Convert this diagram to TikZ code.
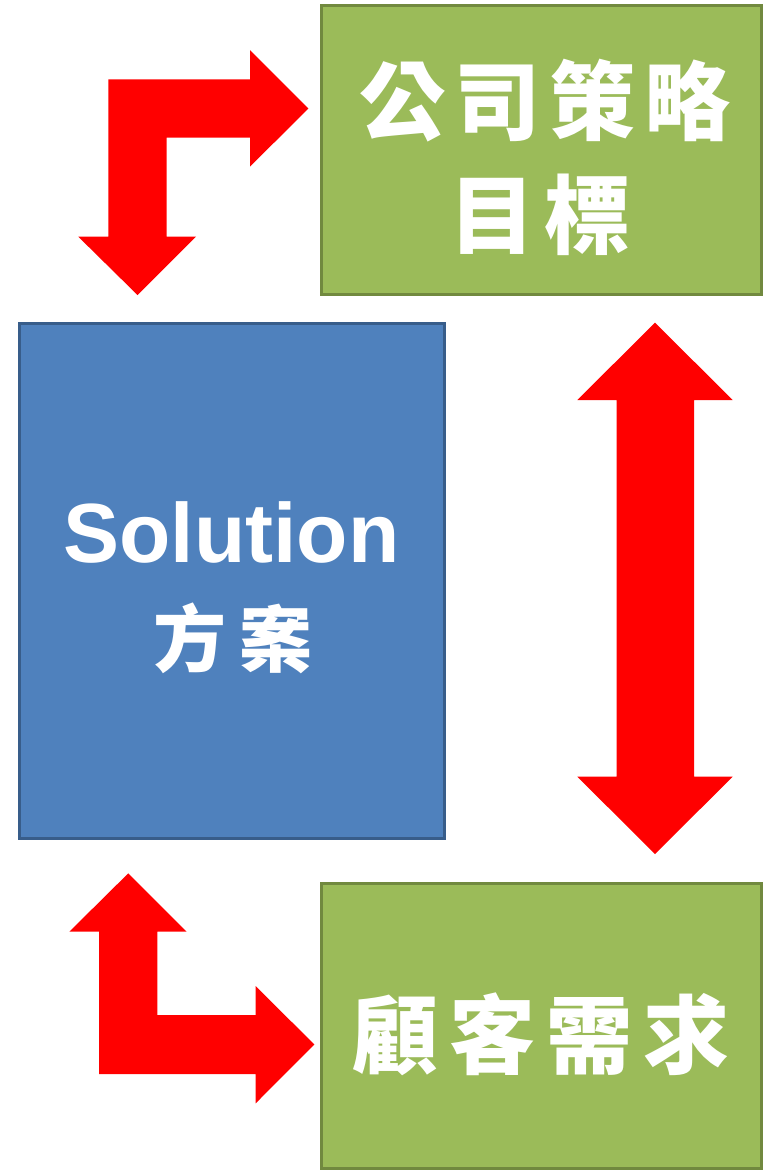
\documentclass[tikz,border=0pt]{standalone}
\usepackage{fontspec}
\setmainfont{Liberation Sans}
\newfontfamily\cjk{Noto Sans CJK TC}
\newcommand\chbox[2]{\makebox[#1pt]{#2}}
\definecolor{gfill}{HTML}{9BBB59}
\definecolor{gline}{HTML}{71893F}
\definecolor{bfill}{HTML}{4F81BD}
\definecolor{bline}{HTML}{385D8A}
\definecolor{ared}{HTML}{FF0000}
\tikzset{
  greenbox/.style={draw=gline, fill=gfill, line width=3pt, rectangle, inner sep=0pt},
  bluebox/.style={draw=bline, fill=bfill, line width=3pt, rectangle, inner sep=0pt},
  blockarrow/.style={fill=ared, draw=none},
  cjktext/.style={text=white, inner sep=0pt, font=\cjk\bfseries\fontsize{86pt}{86pt}\selectfont},
}
\begin{document}
\begin{tikzpicture}[x=1pt, y=-1pt]
\useasboundingbox (0,0) rectangle (767,1171);
% boxes
\node[greenbox, minimum width=440pt, minimum height=289pt] (goal) at (541.5,150) {};
\node[greenbox, minimum width=440pt, minimum height=285pt] (need) at (541.5,1026) {};
\node[bluebox, minimum width=425pt, minimum height=515pt] (sol) at (231.5,580.5) {};
% texts
\node[cjktext] (goal1) at (545,101) {\chbox{95}{公}\chbox{95}{司}\chbox{95}{策}\chbox{95}{略}};
\node[cjktext] (goal2) at (540,215) {\chbox{95}{目}\chbox{95}{標}};
\node[cjktext] (need1) at (541,1034) {\chbox{97}{顧}\chbox{97}{客}\chbox{97}{需}\chbox{97}{求}};
\node[text=white, inner sep=0pt, anchor=base, font=\bfseries\fontsize{84pt}{84pt}\selectfont] (sol1) at (231.5,562) {Solution};
\node[cjktext, font=\cjk\bfseries\fontsize{73pt}{73pt}\selectfont] (sol2) at (233,638) {\chbox{86}{方}\chbox{86}{案}};
% top bent double arrow
\coordinate (a1) at (308.3,108.5);
\coordinate (a2) at (137.5,295);
\fill[blockarrow] (108.3,79.3) -- (250,79.3) -- (250,50) -- (a1) -- (250,166.7) -- (250,137.7)
  -- (166.7,137.7) -- (166.7,236.7) -- (196,236.7) -- (a2) -- (78.3,236.7) -- (108.3,236.7) -- cycle;
% bottom bent double arrow
\coordinate (b1) at (128.3,873.3);
\coordinate (b2) at (314.3,1044.5);
\fill[blockarrow] (b1) -- (186.7,931.7) -- (157.3,931.7) -- (157.3,1015) -- (255.7,1015) -- (255.7,986)
  -- (b2) -- (255.7,1103.3) -- (255.7,1074) -- (99,1074) -- (99,931.7) -- (69.3,931.7) -- cycle;
% vertical double arrow
\coordinate (c1) at (655,322.7);
\coordinate (c2) at (655,854);
\fill[blockarrow] (c1) -- (732.7,400) -- (694,400) -- (694,776.7) -- (732.7,776.7) -- (c2)
  -- (577.3,776.7) -- (616.7,776.7) -- (616.7,400) -- (577.3,400) -- cycle;
\end{tikzpicture}
\end{document}
